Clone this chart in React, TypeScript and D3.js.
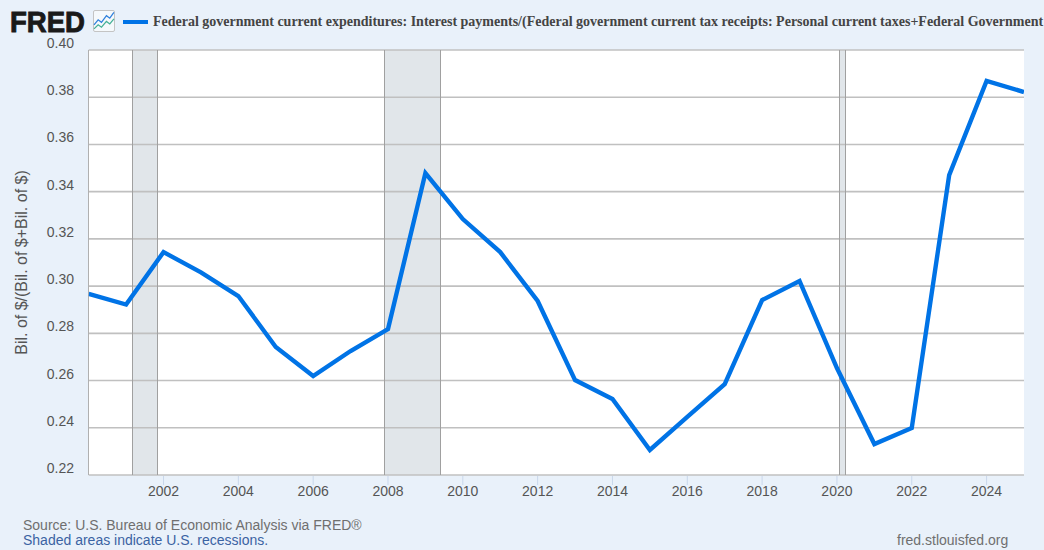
import React from "react";
import * as d3 from "d3";

const years = [2000,2001,2002,2003,2004,2005,2006,2007,2008,2009,2010,2011,2012,2013,2014,2015,2016,2017,2018,2019,2020,2021,2022,2023,2024,2025];
const ratio = [0.2967,0.2922,0.3144,0.3058,0.2958,0.2742,0.2619,0.2725,0.2818,0.3479,0.3284,0.3144,0.2937,0.2602,0.2522,0.2306,0.2446,0.2585,0.2941,0.3022,0.2653,0.2331,0.2399,0.3470,0.3869,0.3822];
const recessionStart = [2001.17,2007.9,2020.08];
const recessionEnd = [2001.83,2009.4,2020.23];
const yTicks = [0.22,0.24,0.26,0.28,0.30,0.32,0.34,0.36,0.38,0.40];
const xTicks = [2002,2004,2006,2008,2010,2012,2014,2016,2018,2020,2022,2024];
const legendText = "Federal government current expenditures: Interest payments/(Federal government current tax receipts: Personal current taxes+Federal Government";
const yLabel = "Bil. of $/(Bil. of $+Bil. of $)";
const sourceText = "Source: U.S. Bureau of Economic Analysis via FRED®";
const shadedText = "Shaded areas indicate U.S. recessions.";
const siteText = "fred.stlouisfed.org";
const iconBlue = [[0,16],[5,10],[9,13],[15,5],[19,8],[24,1]];
const iconGreen = [[0,21],[5,16],[9,19],[15,12],[19,15],[24,9]];

const sans = "Arial, 'Liberation Sans', sans-serif";

export default function App() {
  const x = d3.scaleLinear().domain([2000, 2025]).range([88.7, 1024]);
  const y = d3.scaleLinear().domain([0.22, 0.40]).range([475, 50]);
  const line = d3.line<number>().x((_, i) => x(years[i])).y(d => y(d));
  const icon = d3.line();
  const snap = (v: number) => Math.floor(v) + 0.5;
  return (
    <svg width={1044} height={550} style={{ position: "absolute", left: 0, top: 0, display: "block" }}>
      <rect width={1044} height={550} fill="#e9f1fa" />
      <rect x={x(2000)} y={y(0.40)} width={x(2025) - x(2000)} height={y(0.22) - y(0.40)} fill="#ffffff" />
      {recessionStart.map((s, i) => (
        <rect key={s} x={snap(x(s))} y={50} width={snap(x(recessionEnd[i])) - snap(x(s))} height={425} fill="#e1e6ea" />
      ))}
      {yTicks.map(t => (
        <g key={t}>
          <line x1={x(2000)} x2={1024} y1={y(t)} y2={y(t)} stroke="#c0c0c0" strokeWidth={1.6} />
          <text x={74} y={y(t) - 2} textAnchor="end" fontFamily={sans} fontSize={14} fill="#555555">{t.toFixed(2)}</text>
        </g>
      ))}
      {recessionStart.map((s, i) => (
        <g key={s}>
          <line x1={snap(x(s))} x2={snap(x(s))} y1={50} y2={475} stroke="#a0a0a0" strokeWidth={1} />
          <line x1={snap(x(recessionEnd[i]))} x2={snap(x(recessionEnd[i]))} y1={50} y2={475} stroke="#a0a0a0" strokeWidth={1} />
        </g>
      ))}
      <line x1={88.5} x2={88.5} y1={50} y2={475} stroke="#b0b0b0" strokeWidth={1} />
      {xTicks.map(t => (
        <g key={t}>
          <line x1={x(t)} x2={x(t)} y1={476} y2={485} stroke="#c9d7eb" strokeWidth={1} />
          <text x={x(t)} y={495.5} textAnchor="middle" fontFamily={sans} fontSize={14} fill="#555555">{t}</text>
        </g>
      ))}
      <path d={line(ratio) ?? ""} fill="none" stroke="#0073e6" strokeWidth={4.4} strokeLinejoin="miter" clipPath="url(#plotClip)" />
      <defs>
        <clipPath id="plotClip"><rect x={x(2000)} y={50} width={x(2025) - x(2000)} height={425} /></clipPath>
      </defs>
      <text transform="translate(27,262.5) rotate(-90)" textAnchor="middle" fontFamily={sans} fontSize={16} fill="#555555">{yLabel}</text>
      <text x={10} y={31.7} fontFamily={sans} fontSize={29} fontWeight={900} fill="#1a1a1a" stroke="#1a1a1a" strokeWidth={0.9} textLength={75} lengthAdjust="spacingAndGlyphs">FRED</text>
      <g transform="translate(93.5,10.5)">
        <rect x={0} y={0} width={21} height={21} rx={1.5} fill="#f5f9fc" stroke="#c4c4c4" />
        <g transform="translate(0.5,1) scale(0.83)">
          <path d={icon(iconBlue as [number, number][]) ?? ""} fill="none" stroke="#2f80dc" strokeWidth={1.5} />
          <path d={icon(iconGreen as [number, number][]) ?? ""} fill="none" stroke="#45b096" strokeWidth={1.5} />
        </g>
      </g>
      <line x1={123} x2={148} y1={22} y2={22} stroke="#0073e6" strokeWidth={4} />
      <text x={153} y={26} fontFamily="'Liberation Serif', 'Times New Roman', serif" fontWeight={700} fontSize={14} fill="#444444">{legendText}</text>
      <text x={23} y={530} fontFamily={sans} fontSize={14} fill="#6f6f6f">{sourceText}</text>
      <text x={23} y={545} fontFamily={sans} fontSize={14} fill="#3b63a3">{shadedText}</text>
      <text x={897} y={545} fontFamily={sans} fontSize={14} fill="#6f6f6f">{siteText}</text>
    </svg>
  );
}
